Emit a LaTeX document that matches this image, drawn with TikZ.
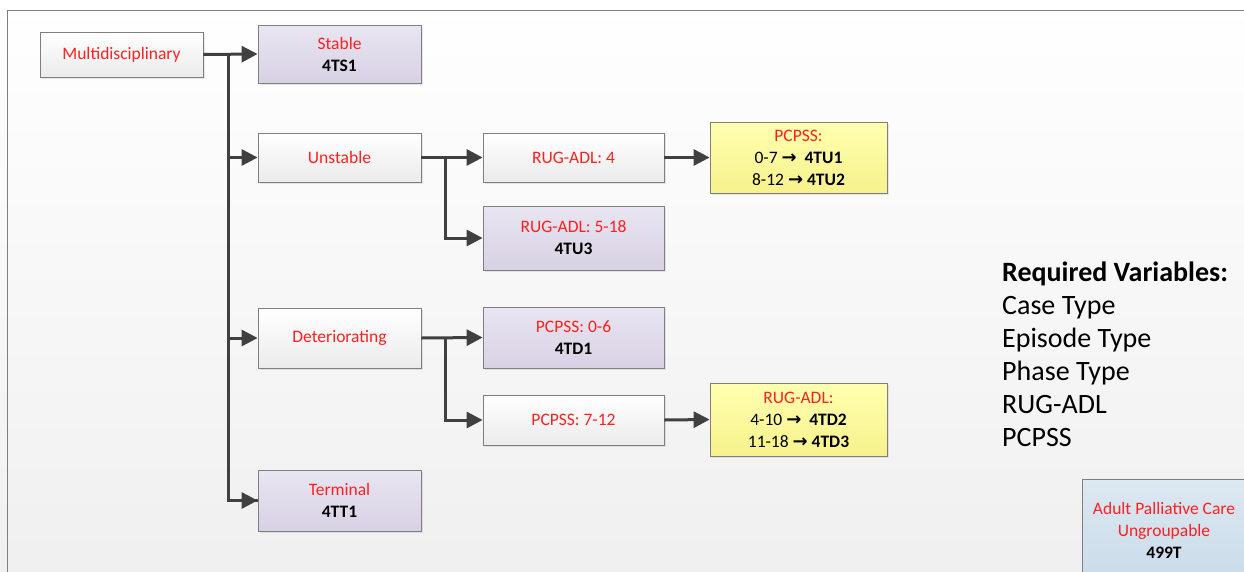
\documentclass[tikz,border=0pt]{standalone}
\usepackage{fontspec}
\setmainfont{Carlito}
\newfontfamily\arrowfont{DejaVu Sans}
\usetikzlibrary{arrows.meta,positioning,shadows}
\definecolor{LineGrey}{HTML}{404040}
\definecolor{FrameGrey}{HTML}{7F7F7F}
\definecolor{LabelRed}{HTML}{FF2020}
\definecolor{LilacTop}{HTML}{E9E5F1}
\definecolor{LilacBot}{HTML}{D8D1E4}
\definecolor{PaperTop}{HTML}{FFFFFF}
\definecolor{PaperBot}{HTML}{EBEBEB}
\definecolor{LemonTop}{HTML}{FFFFB0}
\definecolor{LemonBot}{HTML}{F7F28C}
\definecolor{IceTop}{HTML}{DDE8F2}
\definecolor{IceBot}{HTML}{C9DBEA}
\newcommand{\ra}{{\arrowfont\bfseries\fontsize{18}{22}\selectfont\char"2192}}
\begin{document}
\begin{tikzpicture}[
  x=1pt,y=-1pt,
  base/.style={draw=FrameGrey,line width=0.8pt,align=center,inner sep=2pt,
    font=\fontsize{17.5}{22}\selectfont,
    drop shadow={opacity=0.18,shadow xshift=2pt,shadow yshift=-2pt}},
  plain/.style={base,top color=PaperTop,bottom color=PaperBot,text=LabelRed},
  leaf/.style={base,top color=LilacTop,bottom color=LilacBot},
  table/.style={base,top color=LemonTop,bottom color=LemonBot},
  ungroup/.style={base,top color=IceTop,bottom color=IceBot},
  arr/.style={-{Triangle[length=16pt,width=16pt]},line width=3pt,color=LineGrey},
  lin/.style={line width=3pt,color=LineGrey}
]
\useasboundingbox (0,0) rectangle (1244,571);
\shade[top color=white,bottom color=black!6] (0,0) rectangle (1244,571);
\draw[FrameGrey,line width=1pt] (1250,10) -| (7,580);

% first column
\node[plain,minimum width=163pt,minimum height=45pt] (multi) at (121.5,54.5) {Multidisciplinary};
\node[leaf,minimum width=163pt,minimum height=58pt] (stable) at (339.5,54) {\textcolor{LabelRed}{Stable}\\\textbf{4TS1}};
\node[plain,minimum width=163pt,minimum height=49pt] (unstable) at (339.5,157.5) {Unstable};
\node[plain,minimum width=163pt,minimum height=60pt] (deter) at (339.5,338) {Deteriorating};
\node[leaf,minimum width=163pt,minimum height=61pt] (term) at (339.5,500.5) {\textcolor{LabelRed}{Terminal}\\\textbf{4TT1}};

% second column
\node[plain,minimum width=181pt,minimum height=49pt] (rug4) at (573.5,157.5) {RUG-ADL: 4};
\node[leaf,minimum width=181pt,minimum height=64pt] (rug518) at (573.5,238) {\textcolor{LabelRed}{RUG-ADL: 5-18}\\\textbf{4TU3}};
\node[leaf,minimum width=181pt,minimum height=61pt] (pc06) at (573.5,337.5) {\textcolor{LabelRed}{PCPSS: 0-6}\\\textbf{4TD1}};
\node[plain,minimum width=181pt,minimum height=50pt] (pc712) at (573.5,420) {PCPSS: 7-12};

% third column
\node[table,minimum width=177pt,minimum height=71pt] (tu12) at (798.5,157.5) {\textcolor{LabelRed}{PCPSS:}\\0-7 \ra\ \ \textbf{4TU1}\\8-12 \ra\ \textbf{4TU2}};
\node[table,minimum width=177pt,minimum height=73pt] (td23) at (798.5,419.5) {\textcolor{LabelRed}{RUG-ADL:}\\4-10 \ra\ \ \textbf{4TD2}\\11-18 \ra\ \textbf{4TD3}};

% legend
\node[anchor=north west,align=left,inner sep=0pt,font=\fontsize{28}{33}\selectfont] (vars) at (1002,262)
  {\textbf{Required Variables:}\\Case Type\\Episode Type\\Phase Type\\RUG-ADL\\PCPSS};
\node[ungroup,minimum width=164pt,minimum height=102pt] (ungr) at (1164,530)
  {\textcolor{LabelRed}{Adult Palliative Care}\\\textcolor{LabelRed}{Ungroupable}\\\textbf{499T}};

% connectors
\coordinate (trunk) at (228,54.5);
\coordinate (ubranch) at (445,157.5);
\coordinate (dbranch) at (445,338);
\draw[arr] (multi.east) -- (stable.west);
\draw[lin] (trunk) |- (term.west);
\draw[arr] (trunk) |- (unstable.west);
\draw[arr] (trunk) |- (deter.west);
\draw[arr] (trunk) |- (term.west);
\draw[arr] (unstable.east) -- (rug4.west);
\draw[arr] (ubranch) |- (rug518.west);
\draw[arr] (rug4.east) -- (tu12.west);
\draw[arr] (deter.east) -- (pc06.west);
\draw[arr] (dbranch) |- (pc712.west);
\draw[arr] (pc712.east) -- (td23.west);
\end{tikzpicture}
\end{document}
